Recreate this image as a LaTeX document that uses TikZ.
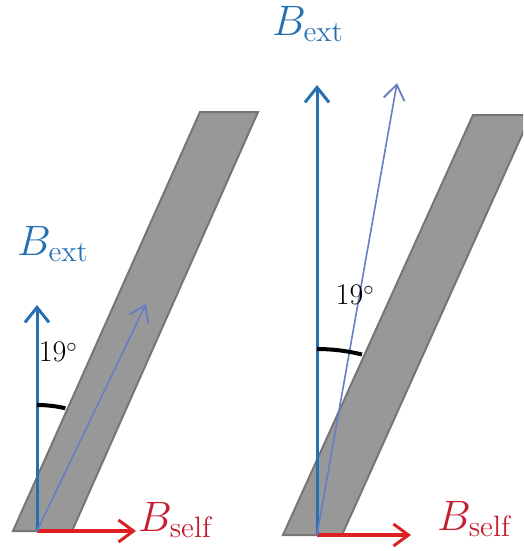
\documentclass[tikz,border=0pt]{standalone}
\usepackage{amsmath}
\usepackage{graphicx}
\usepackage{xcolor}
\usepackage{tikz}
\usetikzlibrary{arrows.meta}
\definecolor{extblue}{RGB}{38,112,178}
\definecolor{tiltblue}{RGB}{105,125,195}
\definecolor{selfred}{RGB}{222,32,36}
\definecolor{labred}{RGB}{196,30,48}
\definecolor{slabgray}{RGB}{152,152,152}
\definecolor{slabedge}{RGB}{118,118,118}
\tikzset{
  slab/.style={fill=slabgray,draw=slabedge,line width=2pt,line join=miter},
  ext/.style={extblue,line width=3pt,-{Straight Barb[length=15pt,width=24pt,line width=3pt]}},
  tilt/.style={tiltblue,line width=1.6pt,-{Straight Barb[length=15pt,width=21pt,line width=1.8pt]}},
  self/.style={selfred,line width=3.2pt,-{Straight Barb[length=15pt,width=22pt,line width=3pt]}},
  ang/.style={black,line width=4pt},
  extlab/.style={text=extblue,inner sep=0pt,font=\fontsize{20}{24}\selectfont},
  selflab/.style={text=labred,inner sep=0pt,anchor=base west,font=\fontsize{20}{24}\selectfont},
  deglab/.style={inner sep=0pt,font=\fontsize{30}{36}\selectfont}
}
\newcommand{\bext}{\scalebox{2.05}{$B_{\mathrm{ext}}$}}
\newcommand{\bself}{\scalebox{2.05}{$B_{\mathrm{self}}$}}
\begin{document}
\begin{tikzpicture}[x=1pt,y=-1pt]
\clip (0,0) rectangle (523,551);
\draw[slab] (13,531) -- (72,531) -- (258,112) -- (200,112) -- cycle;
\draw[slab] (283,535) -- (342,535) -- (531,115) -- (473,115) -- cycle;
\coordinate (oL) at (37,531); \coordinate (extL) at (37,305);
\coordinate (tiltL) at (146,304); \coordinate (selfL) at (136,531);
\coordinate (oR) at (317,535); \coordinate (extR) at (317,85);
\coordinate (tiltR) at (397,83); \coordinate (selfR) at (411,535);
\draw[self] (oL) -- (selfL); \draw[ext] (oL) -- (extL); \draw[tilt] (oL) -- (tiltL);
\draw[ang] (37,405) arc[start angle=270,end angle=283,radius=126];
\draw[self] (oR) -- (selfR); \draw[ext] (oR) -- (extR); \draw[tilt] (oR) -- (tiltR);
\draw[ang] (317,349) arc[start angle=270,end angle=284,radius=186];
\node[extlab] (bextL) at (53,244) {\bext};
\node[extlab] (bextR) at (308,24) {\bext};
\node[selflab] (bselfL) at (138,531) {\bself};
\node[selflab] (bselfR) at (437,530) {\bself};
\node[deglab] (degL) at (58,352) {19$^\circ$};
\node[deglab] (degR) at (355,295) {19$^\circ$};
\end{tikzpicture}
\end{document}
